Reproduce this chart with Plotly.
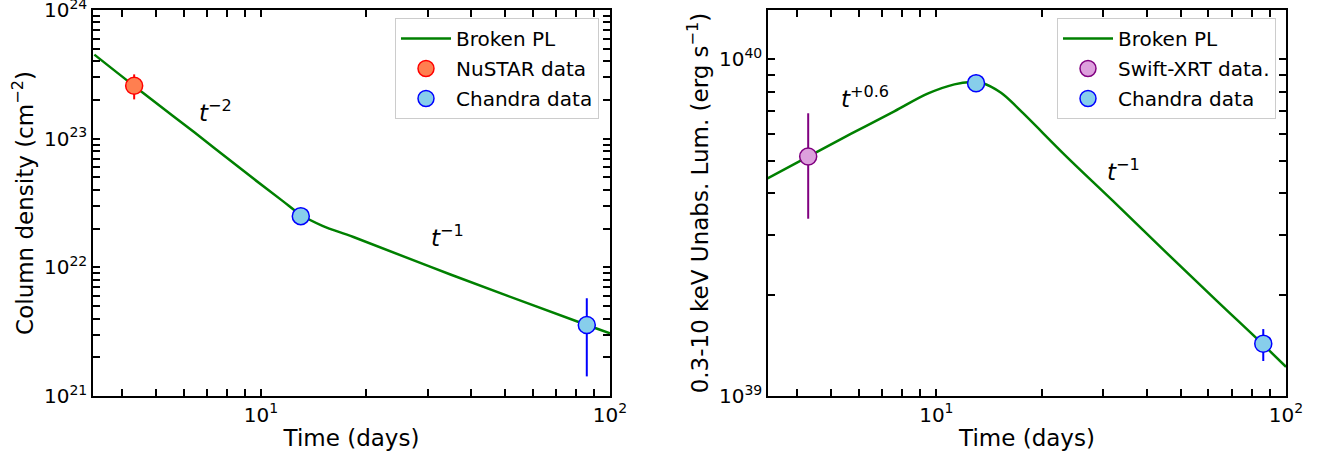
import numpy as np
import plotly.graph_objects as go

# ---------------- data ----------------
# Left panel: column density
curve_t_left = [3.33, 4.32, 6.44, 9.55, 11.5, 13.0, 15.0, 18.4, 34.9, 85.8, 100.0]
curve_n_left = [4.5e23, 2.58e23, 1.12e23, 4.85e22, 3.3e22, 2.56e22, 2.1e22, 1.72e22, 8.8e21, 3.56e21, 3.07e21]

nustar_t = [4.33]
nustar_n = [2.58e23]
nustar_err_hi = [0.58e23]
nustar_err_lo = [0.56e23]

chandra_t_left = [13.0, 85.8]
chandra_n = [2.5e22, 3.56e21]
chandra_n_err_hi = [0.3e22, 2.19e21]
chandra_n_err_lo = [0.3e22, 2.14e21]

# Right panel: luminosity
curve_t_right = [3.29, 4.30, 5.69, 7.58, 9.44, 11.26, 12.56, 13.5, 15.31, 17.32, 23.56, 32.04, 45.55, 63.3, 86.1, 100.0]
curve_l_right = [4.43e39, 5.14e39, 6.0e39, 7.0e39, 7.9e39, 8.42e39, 8.55e39, 8.5e39, 7.95e39, 7.07e39,
                 5.14e39, 3.79e39, 2.66e39, 1.92e39, 1.42e39, 1.22e39]

swift_t = [4.30]
swift_l = [5.14e39]
swift_err_hi = [1.77e39]
swift_err_lo = [1.78e39]

chandra_t_right = [12.99, 86.1]
chandra_l = [8.49e39, 1.43e39]
chandra_l_err_hi = [0.5e39, 0.15e39]
chandra_l_err_lo = [0.5e39, 0.16e39]

# Ticks
x_tickvals = [4, 5, 6, 7, 8, 9, 10, 20, 30, 40, 50, 60, 70, 80, 90, 100]
x_ticktext = ["", "", "", "", "", "", "10<sup>1</sup>", "", "", "", "", "", "", "", "", "10<sup>2</sup>"]

yl_tickvals = [m * 10.0 ** e for e in (21, 22, 23) for m in range(1, 10)] + [1e24]
yl_ticktext = [(f"10<sup>{e}</sup>" if m == 1 else "") for e in (21, 22, 23) for m in range(1, 10)] + ["10<sup>24</sup>"]

yr_tickvals = [m * 1e39 for m in range(1, 10)] + [1e40]
yr_ticktext = ["10<sup>39</sup>"] + [""] * 8 + ["10<sup>40</sup>"]

# Annotation labels
ann_left = [("<i>t</i><sup>−2</sup>", 6.56, 1.64e23), ("<i>t</i><sup>−1</sup>", 30.2, 1.75e22)]
ann_right = [("<i>t</i><sup>+0.6</sup>", 5.25, 7.73e39), ("<i>t</i><sup>−1</sup>", 30.3, 4.69e39)]

# ---------------- figure ----------------
FONT = "DejaVu Sans"
GREEN = "#008000"
TICK_SIZE = 20
TITLE_SIZE = 23
LEG_SIZE = 20

fig = go.Figure()

fig.add_trace(go.Scatter(x=curve_t_left, y=curve_n_left, mode="lines", name="Broken PL",
                         line=dict(color=GREEN, width=2.5, shape="spline", smoothing=1.0),
                         xaxis="x", yaxis="y", legend="legend", legendgroup="a"))
fig.add_trace(go.Scatter(x=nustar_t, y=nustar_n, mode="markers", name="NuSTAR data",
                         marker=dict(size=17, color="#FF7F50", line=dict(color="red", width=1.5)),
                         error_y=dict(type="data", array=nustar_err_hi, arrayminus=nustar_err_lo,
                                      color="red", thickness=2, width=0),
                         xaxis="x", yaxis="y", legend="legend", legendgroup="b"))
fig.add_trace(go.Scatter(x=chandra_t_left, y=chandra_n, mode="markers", name="Chandra data",
                         marker=dict(size=17, color="#87CEEB", line=dict(color="blue", width=1.5)),
                         error_y=dict(type="data", array=chandra_n_err_hi, arrayminus=chandra_n_err_lo,
                                      color="blue", thickness=2, width=0),
                         xaxis="x", yaxis="y", legend="legend", legendgroup="c"))

fig.add_trace(go.Scatter(x=curve_t_right, y=curve_l_right, mode="lines", name="Broken PL",
                         line=dict(color=GREEN, width=2.5, shape="spline", smoothing=1.0),
                         xaxis="x2", yaxis="y2", legend="legend2", legendgroup="d"))
fig.add_trace(go.Scatter(x=swift_t, y=swift_l, mode="markers", name="Swift-XRT data.",
                         marker=dict(size=17, color="#DDA0DD", line=dict(color="#800080", width=1.5)),
                         error_y=dict(type="data", array=swift_err_hi, arrayminus=swift_err_lo,
                                      color="#800080", thickness=2, width=0),
                         xaxis="x2", yaxis="y2", legend="legend2", legendgroup="e"))
fig.add_trace(go.Scatter(x=chandra_t_right, y=chandra_l, mode="markers", name="Chandra data",
                         marker=dict(size=17, color="#87CEEB", line=dict(color="blue", width=1.5)),
                         error_y=dict(type="data", array=chandra_l_err_hi, arrayminus=chandra_l_err_lo,
                                      color="blue", thickness=2, width=0),
                         xaxis="x2", yaxis="y2", legend="legend2", legendgroup="f"))

axis_common = dict(type="log", showgrid=False, zeroline=False, showline=True, linecolor="black",
                   linewidth=1.5, mirror="ticks", ticks="inside", ticklen=7, tickwidth=2,
                   tickcolor="black", tickfont=dict(family=FONT, size=TICK_SIZE, color="black"),
                   automargin=False, ticklabeloverflow="allow")

xdom_l = [93 / 1320, 610 / 1320]
xdom_r = [768 / 1320, 1286 / 1320]
ydom = [1 - 396 / 454, 1 - 10 / 454]

leg_common = dict(xanchor="right", yanchor="top", bgcolor="white", bordercolor="#cccccc",
                  borderwidth=1, font=dict(family=FONT, size=LEG_SIZE), tracegroupgap=1,
                  itemwidth=50)

fig.update_layout(
    width=1320, height=454,
    margin=dict(l=0, r=0, t=0, b=0),
    paper_bgcolor="white", plot_bgcolor="white",
    font=dict(family=FONT, size=18, color="black"),
    xaxis=dict(axis_common, domain=xdom_l, anchor="y", range=[np.log10(3.3), 2.0],
               tickmode="array", tickvals=x_tickvals, ticktext=x_ticktext,
               title=dict(text="Time (days)", font=dict(family=FONT, size=TITLE_SIZE), standoff=4)),
    yaxis=dict(axis_common, domain=ydom, anchor="x", range=[20.9999, 24.0001],
               tickmode="array", tickvals=yl_tickvals, ticktext=yl_ticktext,
               title=dict(text="Column density (cm<sup>−2</sup>)", font=dict(family=FONT, size=TITLE_SIZE), standoff=4)),
    xaxis2=dict(axis_common, domain=xdom_r, anchor="y2", range=[np.log10(3.3), 2.0],
                tickmode="array", tickvals=x_tickvals, ticktext=x_ticktext,
                title=dict(text="Time (days)", font=dict(family=FONT, size=TITLE_SIZE), standoff=4)),
    yaxis2=dict(axis_common, domain=ydom, anchor="x2", range=[38.9999, np.log10(1.4e40)],
                tickmode="array", tickvals=yr_tickvals, ticktext=yr_ticktext,
                title=dict(text="0.3-10 keV Unabs. Lum. (erg s<sup>−1</sup>)", font=dict(family=FONT, size=TITLE_SIZE), standoff=4)),
    legend=dict(leg_common, x=599 / 1320, y=1 - 18 / 454),
    legend2=dict(leg_common, x=1276 / 1320, y=1 - 18 / 454),
    showlegend=True,
)

annotations = []
for text, tx, ty in ann_left:
    annotations.append(dict(text=text, x=np.log10(tx), y=np.log10(ty), xref="x", yref="y",
                            showarrow=False, xanchor="left", yanchor="middle",
                            font=dict(family=FONT, size=TITLE_SIZE)))
for text, tx, ty in ann_right:
    annotations.append(dict(text=text, x=np.log10(tx), y=np.log10(ty), xref="x2", yref="y2",
                            showarrow=False, xanchor="left", yanchor="middle",
                            font=dict(family=FONT, size=TITLE_SIZE)))
fig.update_layout(annotations=annotations)

fig.write_html("out.html")
